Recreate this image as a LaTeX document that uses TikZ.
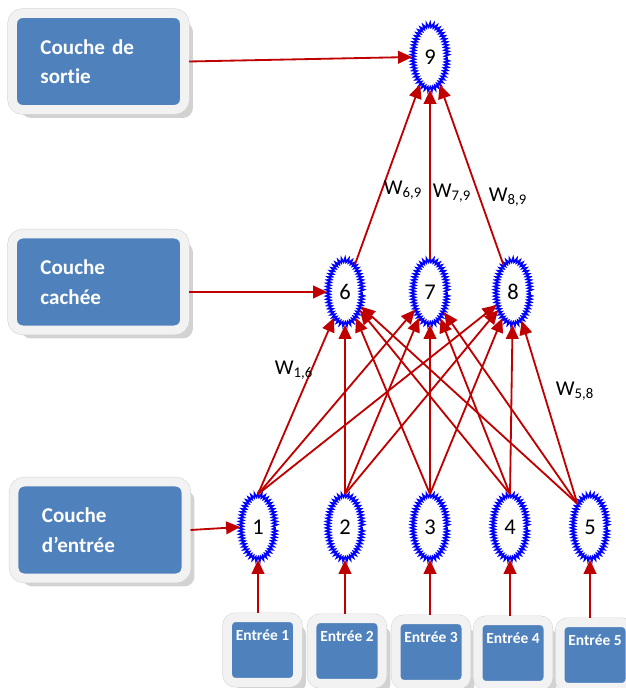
\documentclass[tikz,border=0pt]{standalone}
\usepackage{fontspec}
\setmainfont{Carlito}[Ligatures=NoCommon]
\usetikzlibrary{arrows.meta,shapes.geometric,decorations.pathmorphing,shadows}

\definecolor{bleuboite}{HTML}{4F81BD}
\definecolor{rouge}{HTML}{C00000}
\definecolor{cadre}{HTML}{F2F2F2}

\tikzset{
  boite/.style={rectangle, fill=bleuboite, draw=cadre, line width=0.225cm,
    drop shadow={shadow xshift=6pt, shadow yshift=-6pt, fill=gray!70, opacity=0.5},
    preaction={draw=gray!35, line width=0.25cm},
    text=white},
  couche/.style={boite, rounded corners=0.25cm, minimum width=4.3cm, minimum height=2.4cm,
    text width=2.9cm, align=left, font=\fontsize{15}{21}\selectfont\bfseries},
  entree/.style={boite, rounded corners=0.2cm, minimum width=1.75cm, inner ysep=0pt,
    text height=0.56cm, text depth=1.06cm, font=\fontsize{11}{13}\selectfont\bfseries},
  neurone/.style={ellipse, draw=blue, line width=1.2pt, decorate,
    decoration={zigzag, segment length=2.2pt, amplitude=1.5pt},
    minimum width=0.85cm, minimum height=1.6cm, inner sep=0pt,
    font=\fontsize{16}{16}\selectfont},
  lien/.style={draw=rouge, line width=1.3pt, -{Triangle[length=10pt,width=9pt]}},
  poids/.style={font=\fontsize{15}{15}\selectfont, inner sep=1pt}
}

\begin{document}
\begin{tikzpicture}[x=0.025cm, y=-0.025cm]
  \useasboundingbox (0,0) rectangle (625,688);

  % couches
  \node[couche] (c3) at (98.5,61.5) {Couche de\\sortie};
  \node[couche] (c2) at (98.5,282) {Couche\\cachée};
  \node[couche] (c1) at (100,530) {Couche\\d’entrée};

  % entrees
  \foreach \i/\x/\y in {1/262.5/650, 2/347/651, 3/431/652, 4/513/653, 5/595/655}
    \node[entree] (e\i) at (\x,\y) {Entrée \i};

  % neurones
  \foreach \i/\x in {1/258, 2/345, 3/430, 4/510, 5/590}
    \node[neurone] (n\i) at (\x,527) {\i};
  \foreach \i/\x in {6/345, 7/430, 8/513}
    \node[neurone] (n\i) at (\x,292) {\i};
  \node[neurone] (n9) at (430,57) {9};

  % connexions
  \foreach \i/\a in {1/north, 2/north, 3/north, 4/north, 5/north west}
    \foreach \j in {6,7,8}
      \draw[lien] (n\i.\a) -- (n\j);
  \foreach \j in {6,7,8}
    \draw[lien] (n\j) -- (n9);
  \foreach \i in {1,...,5}
    \draw[lien] (e\i.north -| n\i) -- (n\i.south);

  \draw[lien] (c3.east) -- (n9.west);
  \draw[lien] (c2.east |- n6.west) -- (n6.west);
  \draw[lien] (c1.east) -- (n1.west);

  % poids
  \node[poids] (w69) at (403,190) {W\textsubscript{6,9}};
  \node[poids] (w79) at (452,193) {W\textsubscript{7,9}};
  \node[poids] (w89) at (508,197) {W\textsubscript{8,9}};
  \node[poids] (w16) at (294,370) {W\textsubscript{1,6}};
  \node[poids] (w58) at (575,391) {W\textsubscript{5,8}};
\end{tikzpicture}
\end{document}
